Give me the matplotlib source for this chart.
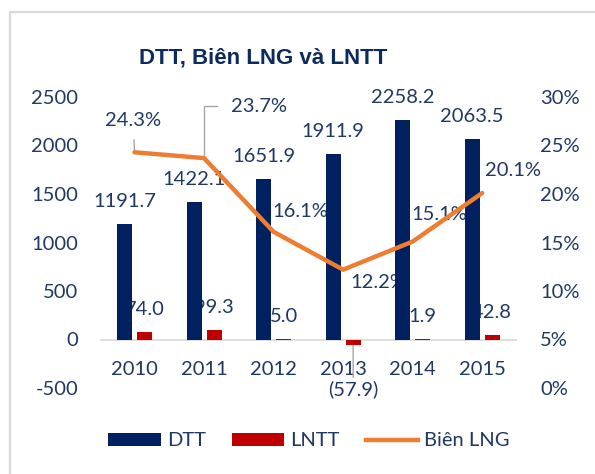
import matplotlib
matplotlib.use("Agg")
import matplotlib.pyplot as plt
from matplotlib.patches import Rectangle, Patch
from matplotlib.lines import Line2D
import numpy as np

years = ["2010", "2011", "2012", "2013", "2014", "2015"]
dtt = [1191.7, 1422.1, 1651.9, 1911.9, 2258.2, 2063.5]
lntt = [74.0, 99.3, 5.0, -57.9, 1.9, 42.8]
bien_lng = [0.243, 0.237, 0.161, 0.122, 0.151, 0.201]
left_ticks = [-500, 0, 500, 1000, 1500, 2000, 2500]
right_ticks = [0.0, 0.05, 0.10, 0.15, 0.20, 0.25, 0.30]

C_DTT = "#002060"
C_LNTT = "#C00000"
C_LINE = "#ED7D31"
C_TXT = "#1F3864"
C_GRID = "#D9D9D9"
FONT = "Lato"
FS = 14.5

plt.rcParams["font.family"] = [FONT, "DejaVu Sans"]

fig = plt.figure(figsize=(5.95, 4.74), dpi=100)
fig.patches.append(Rectangle((10 / 595, -0.1), 1.0, 1 - 12 / 474 + 0.1, transform=fig.transFigure,
                             fill=False, edgecolor=C_GRID, lw=1.6))

ax = fig.add_axes([99.75 / 595, 1 - 388 / 474, 417.25 / 595, 291 / 474])
ax2 = ax.twinx()

x = np.arange(len(years))
off = 0.144
w = 0.216

ax.set_zorder(1)
ax.patch.set_visible(False)
ax2.set_zorder(2)
ax2.patch.set_visible(False)

ax.bar(x - off, dtt, width=w, color=C_DTT, zorder=3)
ax.bar(x + off, lntt, width=w, color=C_LNTT, zorder=3)
ax.axhline(0, color=C_GRID, lw=1.2, zorder=1)

ax.set_xlim(-0.5, len(years) - 0.5)
ax.set_ylim(-500, 2500)
ax.set_yticks(left_ticks)
ax.set_yticklabels([f"{v}" for v in left_ticks])
ax.set_xticks([])
for s in ax.spines.values():
    s.set_visible(False)
for s in ax2.spines.values():
    s.set_visible(False)
ax.tick_params(axis="y", length=0, pad=15.5, labelsize=FS, labelcolor=C_TXT)

ax2.set_ylim(0, 0.30)
ax2.set_yticks(right_ticks)
ax2.set_yticklabels([f"{int(round(v*100))}%" for v in right_ticks])
ax2.tick_params(axis="y", length=0, pad=16.5, labelsize=FS, labelcolor=C_TXT)

# year labels next to zero line
for i, yr in enumerate(years):
    ax.annotate(yr, (x[i], 0), xytext=(0, -30), textcoords="offset pixels",
                ha="center", va="center", fontsize=FS, color=C_TXT, zorder=1)

# DTT labels
for i, v in enumerate(dtt):
    ax.annotate(f"{v:.1f}", (x[i] - off, v), xytext=(0, 17), textcoords="offset pixels",
                ha="center", va="baseline", fontsize=FS, color=C_TXT, zorder=1)

# LNTT labels
for i, v in enumerate(lntt):
    if v >= 0:
        ax.annotate(f"{v:.1f}", (x[i] + off, v), xytext=(0, 17), textcoords="offset pixels",
                    ha="center", va="baseline", fontsize=FS, color=C_TXT, zorder=1)
    else:
        ax.annotate(f"({abs(v):.1f})", (x[i] + off, v), xytext=(0, -44), textcoords="offset pixels",
                    ha="center", va="center", fontsize=FS, color=C_TXT, zorder=1,
                    arrowprops=dict(arrowstyle="-", color="#A6A6A6", lw=1.0,
                                    shrinkA=30, shrinkB=0, relpos=(0.5, 1.0)))

# line
ax2.plot(x, bien_lng, color=C_LINE, lw=3.2, zorder=5, solid_capstyle="round")

# percentage labels drawn beneath the bars (on the bar axes, in line-axis coordinates)
pct_offsets = [(-1, 32), (55, 52), (27, 20), (35, -13), (27, 27), (31, 23)]
for i, v in enumerate(bien_lng):
    dx, dy = pct_offsets[i]
    kw = {}
    if i == 0:
        kw["arrowprops"] = dict(arrowstyle="-", color="#A6A6A6", lw=1.0,
                                shrinkA=6, shrinkB=1, relpos=(0.5, 0.0))
    elif i == 1:
        kw["arrowprops"] = dict(arrowstyle="-", color="#A6A6A6", lw=1.0,
                                shrinkA=8, shrinkB=1, relpos=(0.0, 0.5),
                                connectionstyle="angle,angleA=0,angleB=90,rad=0")
    ax.annotate(f"{v*100:.1f}%", (x[i], v), xycoords=ax2.transData,
                xytext=(dx, dy), textcoords="offset pixels",
                ha="center", va="center", fontsize=FS, color=C_TXT, zorder=1, **kw)

fig.text(263 / 595, 1 - 58 / 474, "DTT, Biên LNG và LNTT", ha="center", va="center",
         fontsize=16, fontweight="bold", color="#0D2A5C", family=["Liberation Sans", "DejaVu Sans"])

handles = [Patch(facecolor=C_DTT, edgecolor="none"),
           Patch(facecolor=C_LNTT, edgecolor="none"),
           Line2D([0], [0], color=C_LINE, lw=3.2)]
fig.legend(handles, ["DTT", "LNTT", "Biên LNG"], loc="center", bbox_to_anchor=(309 / 595, 1 - 441 / 474),
           ncol=3, frameon=False, fontsize=FS, handlelength=2.6, handleheight=0.62,
           handletextpad=0.3, columnspacing=1.3, labelcolor=C_TXT)

fig.savefig("out.png", dpi=100)
